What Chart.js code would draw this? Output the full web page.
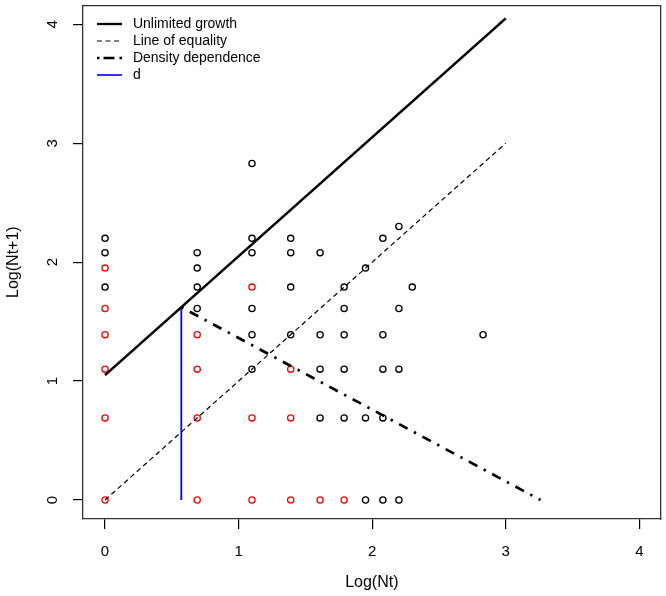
<!DOCTYPE html>
<html><head><meta charset="utf-8">
<script src="https://cdn.jsdelivr.net/npm/chart.js@4/dist/chart.umd.min.js"></script>
<style>html,body{margin:0;padding:0;background:#fff;}#wrap{width:666px;height:596px;}</style>
</head><body><div id="wrap"><canvas id="c" width="666" height="596"></canvas></div>
<script>
const xTickValues = [0, 1, 2, 3, 4];
const yTickValues = [0, 1, 2, 3, 4];
const xTitle = 'Log(Nt)';
const yTitle = 'Log(Nt+1)';
const seriesNames = ['Unlimited growth', 'Line of equality', 'Density dependence', 'd'];

const blackX = [0,0,0, 0.69,0.69,0.69,0.69, 1.1,1.1,1.1,1.1,1.1,1.1, 1.39,1.39,1.39,1.39,
  1.61,1.61,1.61,1.61, 1.79,1.79,1.79,1.79,1.79, 1.95,1.95,1.95, 2.08,2.08,2.08,2.08,2.08,
  2.2,2.2,2.2,2.2, 2.3, 2.83];
const blackY = [2.2,2.08,1.79, 2.08,1.95,1.79,1.61, 2.83,2.2,2.08,1.61,1.39,1.1, 2.2,2.08,1.79,1.39,
  2.08,1.39,1.1,0.69, 1.79,1.61,1.39,1.1,0.69, 1.95,0.69,0, 2.2,1.39,1.1,0.69,0,
  2.3,1.61,1.1,0, 1.79, 1.39];
const redX = [0,0,0,0,0,0, 0.69,0.69,0.69,0.69, 1.1,1.1,1.1, 1.39,1.39,1.39, 1.61, 1.79];
const redY = [1.95,1.61,1.39,1.1,0.69,0, 1.39,1.1,0.69,0, 1.79,0.69,0, 1.1,0.69,0, 0, 0];

const growthX = [0, 3];
const growthY = [1.05, 4.05];
const equalityX = [0, 3];
const equalityY = [0, 3];
const densityX = [0.571, 3.26];
const densityY = [1.621, 0];
const dX = [0.571, 0.571];
const dY = [0, 1.621];

const pts = (xs, ys) => xs.map((x, i) => ({x: x, y: ys[i]}));

Chart.defaults.font.family = "'Liberation Sans', Arial, sans-serif";
Chart.defaults.font.size = 14;
Chart.defaults.color = '#000';

const lineDs = (label, xs, ys, color, width, dash) => ({
  label: label, data: pts(xs, ys), showLine: true, borderColor: color, backgroundColor: color,
  borderWidth: width, borderDash: dash, pointRadius: 0, pointHoverRadius: 0, fill: false, borderCapStyle: 'butt'
});

const legendWidths = [2.3, 1.1, 2.3, 1.6];
const legendDash = [[], [5, 3.5], [2.5, 4, 11, 5], []];

const legendPos = {
  id: 'legendPos',
  afterLayout(chart) {
    const lg = chart.legend;
    lg.left = 94; lg.top = 14; lg.right = 420; lg.bottom = 130;
    lg.width = lg.right - lg.left; lg.height = lg.bottom - lg.top;
  }
};

const noPad = s => { s.paddingTop = 0; s.paddingBottom = 0; s.paddingLeft = 0; s.paddingRight = 0; };

new Chart(document.getElementById('c'), {
  type: 'scatter',
  data: {
    datasets: [
      lineDs(seriesNames[0], growthX, growthY, '#000', 2.6, []),
      lineDs(seriesNames[1], equalityX, equalityY, '#000', 1.2, [5, 3.5]),
      lineDs(seriesNames[2], densityX, densityY, '#000', 2.7, [2.4, 7.2, 9.6, 7.2]),
      lineDs(seriesNames[3], dX, dY, '#0000FF', 1.8, []),
      { label: 'black', data: pts(blackX, blackY), pointStyle: 'circle', pointRadius: 3.1,
        pointBorderWidth: 1.3, pointBorderColor: '#000', pointBackgroundColor: 'rgba(0,0,0,0)', showLine: false },
      { label: 'red', data: pts(redX, redY), pointStyle: 'circle', pointRadius: 3.1,
        pointBorderWidth: 1.3, pointBorderColor: '#FF0000', pointBackgroundColor: 'rgba(0,0,0,0)', showLine: false }
    ]
  },
  options: {
    responsive: false, animation: false, events: [],
    layout: { padding: 0 },
    scales: {
      x: {
        type: 'linear', position: 'bottom', min: -0.165, max: 4.16,
        afterBuildTicks: s => { s.ticks = xTickValues.map(v => ({value: v})); },
        afterFit: s => { s.height = 77; noPad(s); },
        ticks: { padding: 14, maxRotation: 0, autoSkip: false, color: '#000', font: {size: 15} },
        grid: { drawOnChartArea: false, drawTicks: true, tickLength: 10, color: '#000', lineWidth: 1.2 },
        border: { display: true, color: '#333', width: 1.3 },
        title: { display: true, text: xTitle, color: '#000', font: {size: 16}, padding: {top: 0, bottom: 3.4} }
      },
      y: {
        type: 'linear', position: 'left', min: -0.16, max: 4.16,
        afterBuildTicks: s => { s.ticks = yTickValues.map(v => ({value: v})); },
        afterFit: s => { s.width = 83; noPad(s); },
        ticks: { padding: 16, minRotation: 90, maxRotation: 90, crossAlign: 'center', autoSkip: false, color: '#000', font: {size: 15} },
        grid: { drawOnChartArea: false, drawTicks: true, tickLength: 10, color: '#000', lineWidth: 1.2 },
        border: { display: true, color: '#333', width: 1.3 },
        title: { display: true, text: yTitle, color: '#000', font: {size: 16}, padding: {top: 4.4, bottom: 0} }
      },
      xTop: {
        type: 'linear', position: 'top', min: 0, max: 1,
        afterFit: s => { s.height = 5; noPad(s); },
        ticks: { display: false }, grid: { display: false, drawTicks: false },
        border: { display: true, color: '#333', width: 1.3 }
      },
      yRight: {
        type: 'linear', position: 'right', min: 0, max: 1,
        afterFit: s => { s.width = 5; noPad(s); },
        ticks: { display: false }, grid: { display: false, drawTicks: false },
        border: { display: true, color: '#333', width: 1.3 }
      }
    },
    plugins: {
      tooltip: { enabled: false },
      legend: {
        position: 'chartArea', align: 'start',
        labels: {
          usePointStyle: true, pointStyleWidth: 25, padding: 3, color: '#000', font: {size: 14},
          generateLabels: chart => seriesNames.map((name, i) => {
            const ds = chart.data.datasets[i];
            return { text: ' ' + name, strokeStyle: ds.borderColor, fillStyle: ds.borderColor,
              lineWidth: legendWidths[i], lineDash: legendDash[i], lineCap: 'butt',
              pointStyle: 'line', datasetIndex: i, hidden: false, fontColor: '#000' };
          })
        }
      }
    }
  },
  plugins: [legendPos]
});
</script></body></html>
